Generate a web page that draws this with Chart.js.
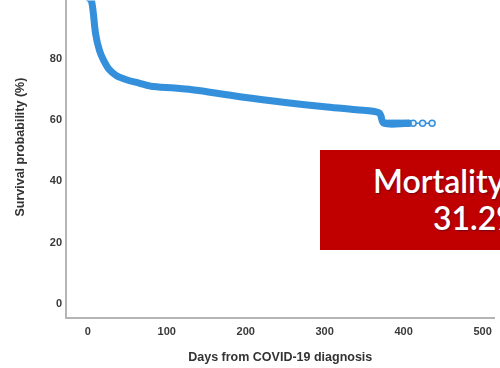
<!DOCTYPE html>
<html>
<head>
<meta charset="utf-8">
<script src="https://cdn.jsdelivr.net/npm/chart.js@4"></script>
<style>
  body { margin: 0; width: 500px; height: 368px; overflow: hidden; background: #fff; position: relative; }
  #km { display: block; margin-top: -5px; }
  #box { position: absolute; left: 320px; top: 150px; width: 200px; height: 100px; background: #c00000; }
  #box div { position: absolute; color: #fff; font-family: Lato, sans-serif; font-weight: 600; font-size: 32px; line-height: 32px; white-space: nowrap; text-shadow: 1px 1px 2px rgba(60,0,40,0.6); }
</style>
</head>
<body>
<canvas id="km" width="500" height="373"></canvas>
<div id="box">
  <div style="left:53px; top:15px;">Mortality</div>
  <div style="left:113px; top:52px;">31.2%</div>
</div>
<script>
// Kaplan-Meier curve
const days = [0, 5, 10, 15, 20, 27, 36, 50, 65, 80, 110, 140, 200, 250, 300, 340, 369, 375, 406];
const survival = [100, 98.5, 88, 82.5, 79.5, 76.5, 74.5, 73, 72, 71, 70.4, 69.6, 67.3, 65.7, 64.3, 63.3, 62.3, 58.9, 58.9];

// censored cases at the tail
const censorDays = [378, 382, 386, 390, 394, 398, 402, 406, 412, 424, 436];
const censorSurv = [58.9, 58.9, 58.9, 58.9, 58.9, 58.9, 58.9, 58.9, 58.9, 58.9, 58.9];

const xTicks = [0, 100, 200, 300, 400, 500];
const yTicks = [0, 20, 40, 60, 80];

const blue = '#3590dc';
const tickFont = { family: 'Liberation Sans, Arial, sans-serif', size: 11, weight: 'bold' };
const titleFont = { family: 'Liberation Sans, Arial, sans-serif', size: 12.5, weight: 'bold' };

const ctx = document.getElementById('km').getContext('2d');
new Chart(ctx, {
  type: 'line',
  data: {
    datasets: [{
      label: 'Survival',
      data: days.map((d, i) => ({ x: d, y: survival[i] })),
      borderColor: blue,
      borderWidth: 7,
      pointRadius: 0,
      tension: 0.3,
      borderCapStyle: 'round',
      borderJoinStyle: 'round'
    }, {
      label: 'Censored',
      data: censorDays.map((d, i) => ({ x: d, y: censorSurv[i] })),
      borderColor: blue,
      borderWidth: 1.5,
      pointRadius: 3,
      pointBorderWidth: 1.5,
      pointBorderColor: blue,
      pointBackgroundColor: '#e6f1fb'
    }]
  },
  options: {
    responsive: false,
    devicePixelRatio: 1,
    animation: false,
    layout: { padding: 0 },
    plugins: { legend: { display: false }, tooltip: { enabled: false } },
    scales: {
      x: {
        type: 'linear',
        min: -27.5,
        max: 515,
        afterFit: s => { s.height = 50; s.paddingLeft = 0; s.paddingRight = 0; },
        afterBuildTicks: s => { s.ticks = xTicks.map(v => ({ value: v })); },
        grid: { display: false, drawTicks: false },
        border: { display: true, color: '#b5b5b5', width: 2 },
        ticks: { font: tickFont, color: '#3a3a3a', padding: 7, maxRotation: 0, autoSkip: false },
        title: { display: true, text: 'Days from COVID-19 diagnosis', font: titleFont, color: '#333', padding: { top: 0, bottom: 3 } }
      },
      y: {
        min: -4.5,
        max: 98.9,
        afterFit: s => { s.width = 66; s.paddingTop = 0; s.paddingBottom = 0; },
        afterBuildTicks: s => { s.ticks = yTicks.map(v => ({ value: v })); },
        grid: { display: false, drawTicks: false },
        border: { display: true, color: '#b5b5b5', width: 2 },
        ticks: { font: tickFont, color: '#3a3a3a', padding: 4 },
        title: { display: true, text: '       Survival probability (%)', font: titleFont, color: '#333', padding: { top: 13, bottom: 0 } }
      }
    }
  }
});
</script>
</body>
</html>
